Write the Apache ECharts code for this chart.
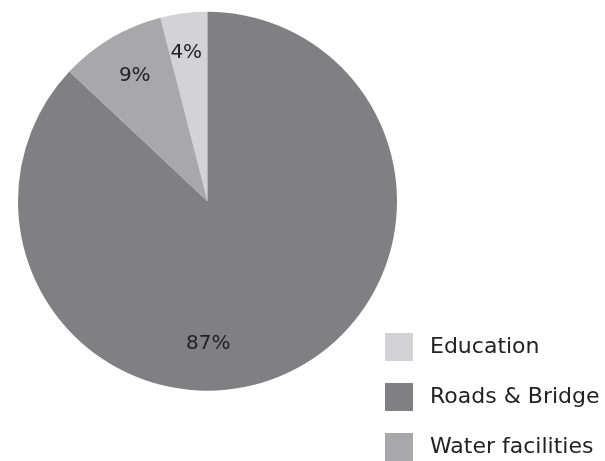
<!DOCTYPE html>
<html>
<head>
<meta charset="utf-8">
<script src="https://cdn.jsdelivr.net/npm/echarts@6/dist/echarts.min.js"></script>
<style>html,body{margin:0;padding:0;background:#fff;}#c{width:605px;height:461px;}</style>
</head>
<body>
<div id="c"></div>
<script>
var categories = ['Education', 'Roads & Bridge', 'Water facilities'];
var values = [4, 87, 9];
var colors = ['#d3d3d5', '#808083', '#a8a8ab'];
var labelOffsets = [[-9, -51], [-38, 53], [-23, -41]];

var chart = echarts.init(document.getElementById('c'), null, {renderer: 'canvas'});
chart.setOption({
  animation: false,
  legend: {
    orient: 'vertical',
    left: 385,
    top: 333,
    padding: 0,
    height: 300,
    width: 300,
    icon: 'rect',
    itemWidth: 28,
    itemHeight: 28,
    itemGap: 22,
    selectedMode: false,
    textStyle: {fontFamily: 'DejaVu Sans', fontSize: 22, color: '#222', padding: [0, 0, 0, 12]},
    data: categories
  },
  series: [{
    type: 'pie',
    center: [207.5, 201.25],
    radius: [0, 189.5],
    startAngle: 90 + 360 * values[0] / 100,
    clockwise: true,
    silent: true,
    label: {show: true, position: 'inside', formatter: '{c}%', fontFamily: 'DejaVu Sans', fontSize: 20, color: '#222'},
    labelLine: {show: false},
    itemStyle: {borderWidth: 0},
    data: categories.map(function (n, i) {
      return {name: n, value: values[i], itemStyle: {color: colors[i]}, label: {offset: labelOffsets[i]}};
    })
  }]
});
</script>
</body>
</html>
